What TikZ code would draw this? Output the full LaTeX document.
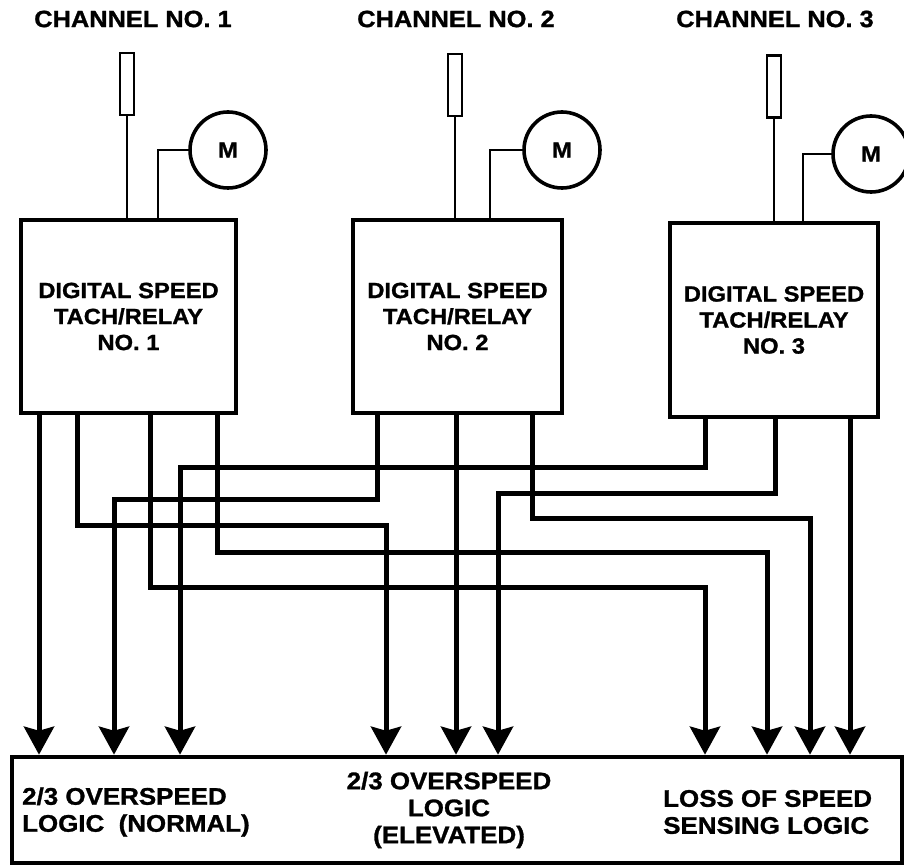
\documentclass[tikz,border=0pt]{standalone}
\usepackage{fontspec}
\setmainfont[FakeStretch=1.08, BoldFeatures={FakeBold=1.2}]{Liberation Sans}
\usepackage{tikz}
\usetikzlibrary{arrows.meta,positioning,calc}

\tikzset{
    chlabel/.style={font=\bfseries\fontsize{23.5}{26}\selectfont},
    sensor/.style={draw, line width=2.8pt, minimum width=14pt, minimum height=62pt, inner sep=0pt},
    motor/.style={draw, circle, line width=3.6pt, minimum size=76pt, inner sep=0pt, font=\bfseries\fontsize{22}{26}\selectfont},
    tachbox/.style={draw, line width=4.6pt, align=center, inner sep=0pt, font=\bfseries\fontsize{22}{26}\selectfont},
    logicbox/.style={draw, line width=4.6pt, inner sep=0pt},
    logictext/.style={font=\bfseries\fontsize{24}{27}\selectfont, inner sep=0pt},
    lead/.style={line width=2.8pt},
    sig/.style={line width=5pt, -{Stealth[length=28pt,width=30pt,inset=4pt]}}
}

\begin{document}
\begin{tikzpicture}[x=1pt, y=-1pt]
    \useasboundingbox (0,0) rectangle (904,866);

    % channels
    \node[chlabel] (ch1) at (133,19) {CHANNEL NO. 1};
    \node[chlabel] (ch2) at (456,19) {CHANNEL NO. 2};
    \node[chlabel] (ch3) at (775,19) {CHANNEL NO. 3};

    \node[tachbox, minimum width=215pt, minimum height=193pt] (t1) at (128.5,316.5) {DIGITAL SPEED\\TACH/RELAY\\NO. 1};
    \node[tachbox, minimum width=209pt, minimum height=193pt] (t2) at (457.5,316.5) {DIGITAL SPEED\\TACH/RELAY\\NO. 2};
    \node[tachbox, minimum width=208pt, minimum height=194pt] (t3) at (774,320) {DIGITAL SPEED\\TACH/RELAY\\NO. 3};

    \node[sensor] (s1) at (127,84) {};
    \node[sensor] (s2) at (455,85) {};
    \node[sensor] (s3) at (774,86.5) {};

    \node[motor] (m1) at (228,150) {M};
    \node[motor] (m2) at (562,150) {M};
    \node[motor] (m3) at (871,154) {M};

    \draw[lead] (s1.south) -- (s1.south |- t1.north);
    \draw[lead] (s2.south) -- (s2.south |- t2.north);
    \draw[lead] (s3.south) -- (s3.south |- t3.north);
    \draw[lead] (m1.west) -| (t1.north -| 158,0);
    \draw[lead] (m2.west) -| (t2.north -| 490,0);
    \draw[lead] (m3.west) -| (t3.north -| 803,0);

    % logic
    \node[logicbox, minimum width=890pt, minimum height=106pt] (lg) at (457,810) {};
    \node[logictext, align=left, anchor=west] (nrm) at (22,812) {2/3 OVERSPEED\\LOGIC\ \ (NORMAL)};
    \node[logictext, align=center] (elv) at (449,810) {2/3 OVERSPEED\\LOGIC\\(ELEVATED)};
    \node[logictext, align=left, anchor=west] (lss) at (663,812) {LOSS OF SPEED\\SENSING LOGIC};

    % tach 1 outputs
    \draw[sig] (t1.south -| 39,0) -- (lg.north -| 39,0);
    \draw[sig] (t1.south -| 77,0) |- (386,525) -- (lg.north -| 386,0);
    \draw[sig] (t1.south -| 217,0) |- (767,552) -- (lg.north -| 767,0);
    \draw[sig] (t1.south -| 150,0) |- (705,587) -- (lg.north -| 705,0);
    % tach 2 outputs
    \draw[sig] (t2.south -| 377,0) |- (114,499) -- (lg.north -| 114,0);
    \draw[sig] (t2.south -| 456,0) -- (lg.north -| 456,0);
    \draw[sig] (t2.south -| 532,0) |- (810,518) -- (lg.north -| 810,0);
    % tach 3 outputs
    \draw[sig] (t3.south -| 705,0) |- (180,467) -- (lg.north -| 180,0);
    \draw[sig] (t3.south -| 775,0) |- (498,493) -- (lg.north -| 498,0);
    \draw[sig] (t3.south -| 850,0) -- (lg.north -| 850,0);
\end{tikzpicture}
\end{document}
